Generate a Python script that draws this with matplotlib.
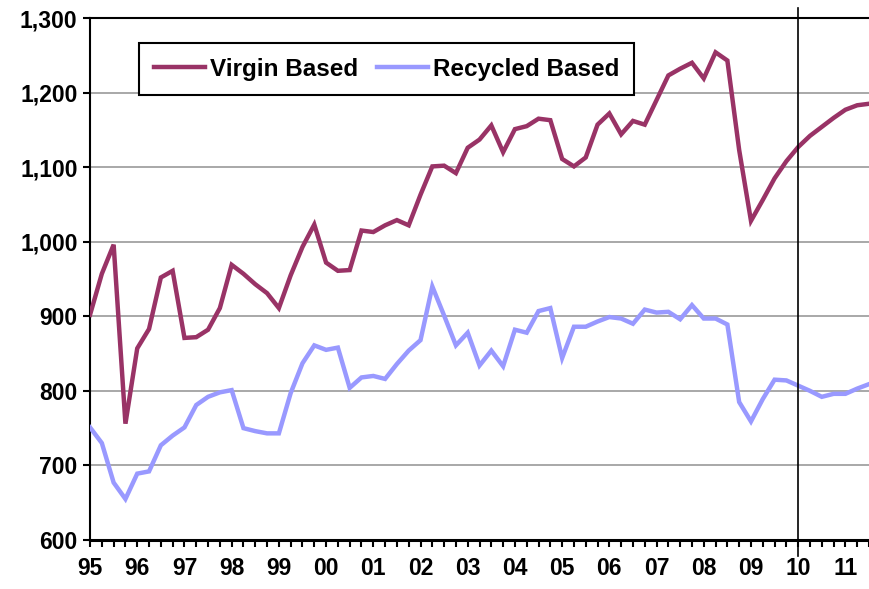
"""Quarterly price index: virgin vs recycled based grades, 1995-2011."""

import matplotlib

matplotlib.use("Agg")
import matplotlib.pyplot as plt
import matplotlib.transforms as mtransforms
import numpy as np

# quarterly values, 95Q1 .. 11Q3
virgin = [
    902, 957, 996, 756, 857, 883, 952, 961, 871, 872, 882, 911,
    969, 957, 943, 931, 911, 955, 993, 1023, 972, 961, 962, 1015,
    1013, 1022, 1029, 1022, 1063, 1101, 1102, 1092, 1126, 1137, 1156, 1120,
    1151, 1155, 1165, 1163, 1111, 1101, 1113, 1157, 1172, 1144, 1162, 1157,
    1190, 1223, 1232, 1240, 1219, 1254, 1243, 1123, 1028, 1056, 1085, 1108,
    1127, 1142, 1154, 1166, 1177, 1183, 1185,
]
recycled = [
    751, 730, 677, 655, 689, 692, 727, 740, 751, 781, 792, 798,
    801, 750, 746, 743, 743, 797, 837, 861, 855, 858, 804, 818,
    820, 816, 836, 854, 868, 940, 901, 861, 878, 834, 854, 833,
    882, 878, 907, 911, 844, 886, 886, 893, 899, 897, 890, 909,
    905, 906, 896, 915, 897, 897, 889, 785, 759, 789, 815, 814,
    807, 800, 792, 796, 796, 803, 809,
]
year_labels = ["95", "96", "97", "98", "99", "00", "01", "02",
               "03", "04", "05", "06", "07", "08", "09", "10", "11"]
forecast_start = 60  # 10Q1

quarters = np.arange(len(virgin))

plt.rcParams["font.family"] = ["Liberation Sans", "DejaVu Sans"]
plt.rcParams["font.weight"] = "bold"

fig = plt.figure(figsize=(8.69, 5.89), dpi=100)
ax = fig.add_axes([0.1036, 0.0832, 0.8964, 0.8862])

ax.plot(quarters, virgin, color="#993366", lw=3.2, label="Virgin Based",
        solid_joinstyle="miter", zorder=3)
ax.plot(quarters, recycled, color="#9999FF", lw=3.2, label="Recycled Based",
        solid_joinstyle="miter", zorder=3)

ax.set_xlim(0, len(virgin) - 1)
ax.set_ylim(600, 1300)
ax.set_yticks(np.arange(600, 1301, 100))
ax.set_yticklabels([f"{v:,}" for v in range(600, 1301, 100)],
                   fontsize=16.5, fontweight="bold")
ax.yaxis.grid(True, color="#999999", lw=1.2)
ax.set_axisbelow(True)

ax.set_xticks(np.arange(0, len(year_labels) * 4, 4))
ax.set_xticklabels(year_labels, fontsize=16.5, fontweight="bold")
ax.set_xticks(quarters, minor=True)
ax.tick_params(axis="x", which="both", direction="out", length=5, width=1.5,
               pad=7)
ax.tick_params(axis="y", direction="out", length=5, width=1.5, pad=4)

for side in ("left", "top"):
    ax.spines[side].set_linewidth(1.5)
ax.spines["bottom"].set_linewidth(2.2)
ax.spines["right"].set_visible(False)

trans = mtransforms.blended_transform_factory(ax.transData, ax.transAxes)
ax.plot([forecast_start, forecast_start], [-0.03, 1.02], color="black",
        lw=1.2, transform=trans, clip_on=False, zorder=4)

leg = ax.legend(loc="upper left", bbox_to_anchor=(0.063, 0.952), ncol=2,
                frameon=True, fancybox=False, framealpha=1, borderaxespad=0,
                prop={"size": 17.5, "weight": "bold"}, handlelength=2.1,
                handletextpad=0.2, columnspacing=0.8, borderpad=0.6)
leg.get_frame().set_edgecolor("black")
leg.get_frame().set_linewidth(1.5)

fig.savefig("out.png", dpi=100)
